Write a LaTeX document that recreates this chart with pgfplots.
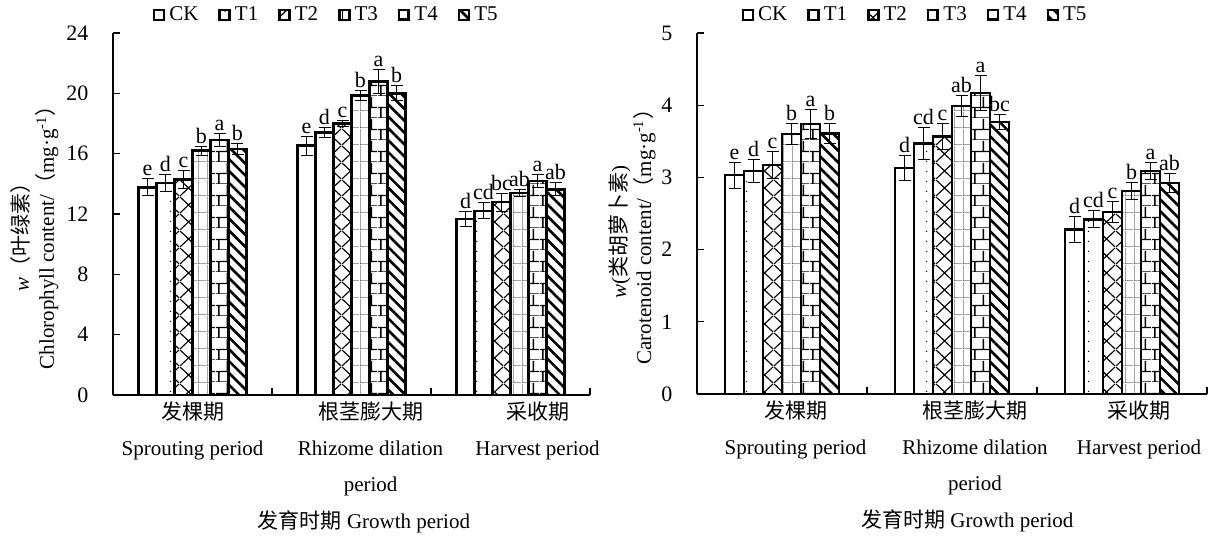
\documentclass[border=0pt]{standalone}
\usepackage{fontspec}
\setmainfont{Liberation Serif}
\newfontfamily\cjk{Noto Sans CJK SC}
\usepackage{pgfplots}
\pgfplotsset{compat=1.18}
\usepackage{pgfplotstable}
\usetikzlibrary{patterns,patterns.meta}

\tikzdeclarepattern{name=pdots,type=uncolored,
  bounding box={(0,0) and (9pt,5pt)},tile size={(9pt,5pt)},
  code={\fill (4.5pt,2.5pt) circle (0.4pt);}}
\tikzdeclarepattern{name=pcross,type=uncolored,
  bounding box={(0,0) and (9pt,8.5pt)},tile size={(9pt,8.5pt)},
  code={\draw[line width=0.6pt] (0,0)--(9pt,8.5pt) (0,8.5pt)--(9pt,0);}}
\tikzdeclarepattern{name=pgrid,type=uncolored,
  bounding box={(0,0) and (4.5pt,8.5pt)},tile size={(4.5pt,8.5pt)},
  code={\draw[line width=0.5pt] (0,0)--(4.5pt,0) (0,0)--(0,8.5pt);}}
\tikzdeclarepattern{name=pbrick,type=uncolored,
  bounding box={(0,0) and (9pt,11pt)},tile size={(9pt,11pt)},
  code={\draw[line width=0.7pt] (0,0)--(9pt,0) (0,5.5pt)--(9pt,5.5pt) (1.5pt,0)--(1.5pt,5.5pt) (6pt,5.5pt)--(6pt,11pt);}}

\pgfplotstableread{
x y e l
0 13.77 0.57 e
1 16.53 0.63 e
2 11.67 0.50 d
}\LCK
\pgfplotstableread{
x y e l
0 14.04 0.57 d
1 17.40 0.36 d
2 12.20 0.53 cd
}\LTa
\pgfplotstableread{
x y e l
0 14.30 0.60 c
1 18.00 0.22 c
2 12.78 0.60 bc
}\LTb
\pgfplotstableread{
x y e l
0 16.20 0.30 b
1 19.85 0.33 b
2 13.40 0.25 ab
}\LTc
\pgfplotstableread{
x y e l
0 16.90 0.42 a
1 20.78 0.77 a
2 14.19 0.40 a
}\LTd
\pgfplotstableread{
x y e l
0 16.30 0.35 b
1 20.00 0.49 b
2 13.64 0.42 ab
}\LTe

\pgfplotstableread{
x y e l
0 3.03 0.18 e
1 3.13 0.17 d
2 2.28 0.18 d
}\RCK
\pgfplotstableread{
x y e l
0 3.09 0.16 d
1 3.47 0.22 cd
2 2.42 0.12 cd
}\RTa
\pgfplotstableread{
x y e l
0 3.17 0.19 c
1 3.57 0.18 c
2 2.52 0.15 c
}\RTb
\pgfplotstableread{
x y e l
0 3.60 0.15 b
1 3.99 0.15 ab
2 2.81 0.12 b
}\RTc
\pgfplotstableread{
x y e l
0 3.74 0.20 a
1 4.17 0.24 a
2 3.09 0.12 a
}\RTd
\pgfplotstableread{
x y e l
0 3.61 0.14 b
1 3.77 0.10 bc
2 2.92 0.13 ab
}\RTe

\newcommand\series[3]{%
  \addplot[#1, bar shift=#3, error bars/.cd, y dir=both, y explicit]
    table[x=x,y=y,y error=e]{#2};
  \addplot[forget plot, draw=none, fill=none, bar shift=#3,
    nodes near coords, point meta=explicit symbolic,
    nodes near coords style={font=\fontsize{11}{13}\selectfont, inner sep=0.8pt, anchor=south, text=black}]
    table[x=x, y expr=\thisrow{y}+\thisrow{e}, meta=l]{#2};
}

\pgfplotsset{
  mychart/.style={
    scale only axis,
    ybar=0pt,
    xmin=-0.5, xmax=2.5, ymin=0,
    enlargelimits=false,
    clip=false,
    axis x line=bottom, axis y line=left,
    axis line style={-, line width=0.6pt},
    tick style={black, line width=0.6pt},
    major tick length=3.5pt,
    tick align=inside,
    xtick={0.5,1.5,2.5}, xticklabels={},
    /pgf/number format/assume math mode=true,
    yticklabel style={font=\fontsize{11}{13}\selectfont},
    yticklabel shift=8.8pt,
    extra x tick style={major tick length=0pt,
      tick label style={align=center, font=\fontsize{10.5}{18}\selectfont}},
    extra x tick labels={{\cjk 发棵期}\\Sprouting period,{\cjk 根茎膨大期}\\Rhizome dilation\\period,{\cjk 采收期}\\Harvest period},
    ylabel style={anchor=center, align=center, font=\fontsize{10.5}{12.5}\selectfont},
    xlabel style={anchor=center, font=\fontsize{10.5}{12.5}\selectfont},
    error bars/error bar style={line width=0.5pt, black},
    error bars/error mark options={line width=0.5pt, black, mark size=3pt, rotate=90},
    legend columns=6,
    legend style={draw=none, fill=none, anchor=west, font=\fontsize{10.5}{12}\selectfont,
      /tikz/every even column/.append style={column sep=8pt}},
    legend image code/.code={\draw[#1] (0pt,-2.5pt) rectangle (5pt,2.5pt);},
    every axis plot/.append style={draw=black, line width=1.25pt},
  },
  sCK/.style={fill=white},
  sT1/.style={pattern=pdots, preaction={fill=white}},
  sT2/.style={pattern=pcross, preaction={fill=white}},
  sT3/.style={pattern=pgrid, preaction={fill=white}},
  sT4/.style={pattern=pbrick, preaction={fill=white}},
  sT5/.style={pattern={Lines[angle=-45,distance=4.2pt,line width=1.3pt]}, preaction={fill=white}},
}

\begin{document}
\begin{tikzpicture}
\path[use as bounding box] (0,0) rectangle (606pt,-268pt);

\begin{axis}[mychart,
  at={(56.5pt,-197.5pt)}, anchor=south west,
  width=238.5pt, height=181pt,
  ymax=24, ytick={0,4,...,24},
  bar width=9pt,
  extra x ticks={0,1.12,2.17},
  ylabel={\textit{w}{\cjk （叶绿素）}\\Chlorophyll content/{\cjk （}mg·g\textsuperscript{-1}{\cjk ）}},
  ylabel style={at={(axis description cs:-0.164,0.45)}},
  xlabel={{\cjk 发育时期} Growth period},
  xlabel style={at={(axis description cs:0.526,0)}, yshift=-63.5pt},
  legend style={at={(axis description cs:0.07,1.05)}},
]
\series{sCK}{\LCK}{-22.5pt}
\series{sT1}{\LTa}{-13.5pt}
\series{sT2}{\LTb}{-4.5pt}
\series{sT3}{\LTc}{4.5pt}
\series{sT4}{\LTd}{13.5pt}
\series{sT5}{\LTe}{22.5pt}
\legend{CK,T1,T2,T3,T4,T5}
\end{axis}

\begin{axis}[mychart,
  at={(348.5pt,-197pt)}, anchor=south west,
  width=255pt, height=180.5pt,
  ymax=5, ytick={0,1,...,5},
  bar width=9.5pt,
  extra x ticks={0.08,1.135,2.1},
  ylabel={\textit{w}({\cjk 类胡萝卜素})\\Carotenoid content/{\cjk （}mg·g\textsuperscript{-1}{\cjk ）}},
  ylabel style={at={(axis description cs:-0.1275,0.45)}},
  xlabel={{\cjk 发育时期} Growth period},
  xlabel style={at={(axis description cs:0.53,0)}, yshift=-63.5pt},
  legend style={at={(axis description cs:0.075,1.05)}},
]
\series{sCK}{\RCK}{-23.75pt}
\series{sT1}{\RTa}{-14.25pt}
\series{sT2}{\RTb}{-4.75pt}
\series{sT3}{\RTc}{4.75pt}
\series{sT4}{\RTd}{14.25pt}
\series{sT5}{\RTe}{23.75pt}
\legend{CK,T1,T2,T3,T4,T5}
\end{axis}
\end{tikzpicture}
\end{document}
